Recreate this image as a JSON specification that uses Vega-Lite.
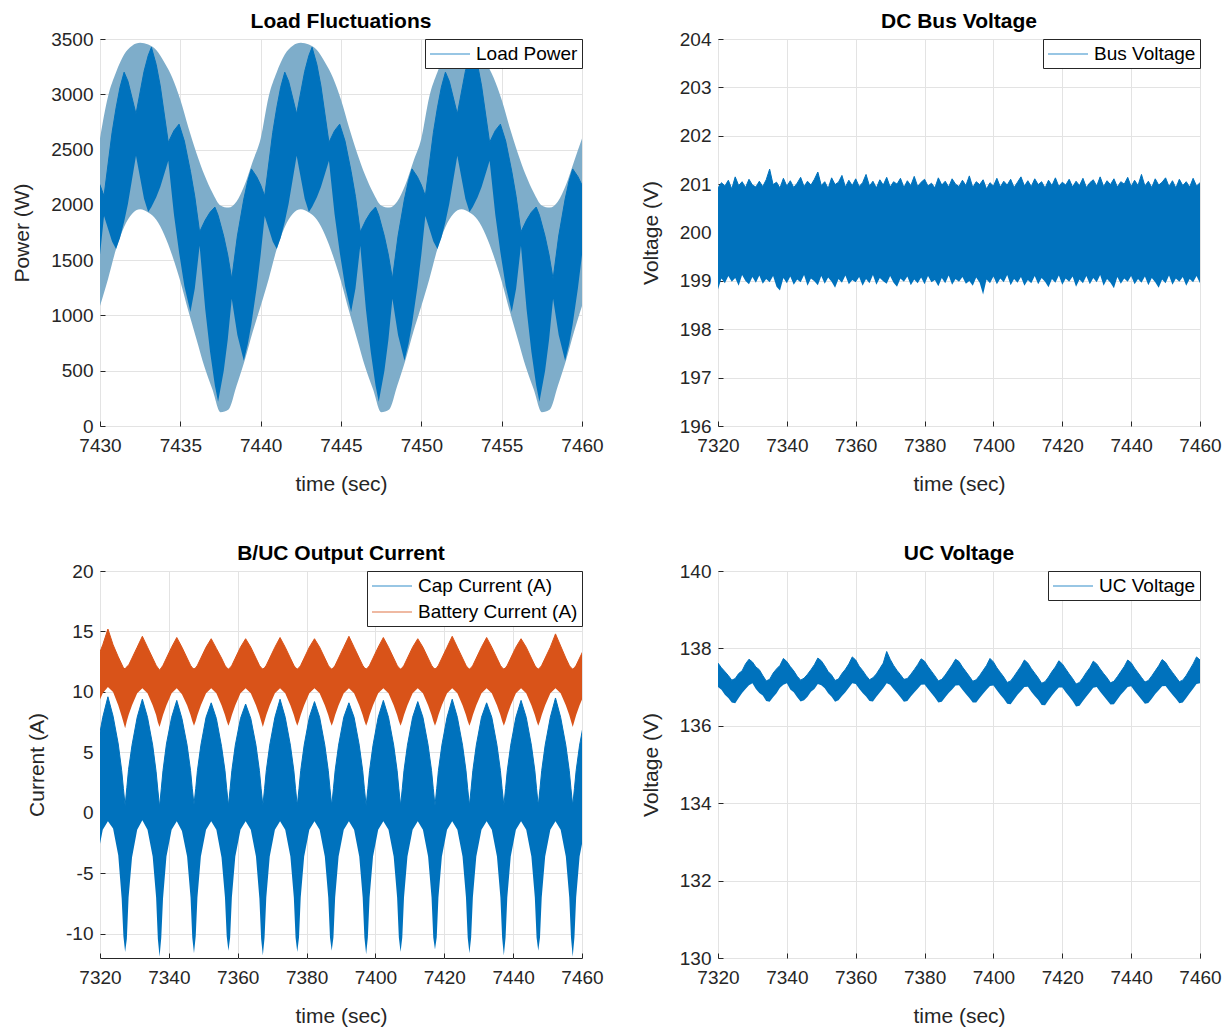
{
"$schema": "https://vega.github.io/schema/vega-lite/v6.json",
"background": "white",
"padding": {"left": 11, "top": 10, "right": 5, "bottom": 5},
"columns": 2,
"spacing": {"row": 145, "column": 136},
"bounds": "flush",
"datasets": {
"p1band": [
{"t":7430,"u":2600,"l":1085},{"t":7430.5,"u":2980,"l":1330},{"t":7431,"u":3200,"l":1600},{"t":7431.5,"u":3360,"l":1800},{"t":7432,"u":3440,"l":1920},{"t":7432.5,"u":3465,"l":1960},{"t":7433,"u":3450,"l":1930},{"t":7433.5,"u":3400,"l":1865},{"t":7434,"u":3290,"l":1730},{"t":7434.5,"u":3150,"l":1540},{"t":7435,"u":2950,"l":1310},{"t":7435.5,"u":2700,"l":1040},{"t":7436,"u":2470,"l":787},{"t":7436.5,"u":2270,"l":536},{"t":7437,"u":2110,"l":330},{"t":7437.5,"u":1995,"l":125},{"t":7438,"u":1975,"l":150},{"t":7438.5,"u":2030,"l":364},{"t":7439,"u":2180,"l":590},{"t":7439.5,"u":2390,"l":850},
{"t":7440,"u":2600,"l":1085},{"t":7440.5,"u":2980,"l":1330},{"t":7441,"u":3200,"l":1600},{"t":7441.5,"u":3360,"l":1800},{"t":7442,"u":3440,"l":1920},{"t":7442.5,"u":3465,"l":1960},{"t":7443,"u":3450,"l":1930},{"t":7443.5,"u":3400,"l":1865},{"t":7444,"u":3290,"l":1730},{"t":7444.5,"u":3150,"l":1540},{"t":7445,"u":2950,"l":1310},{"t":7445.5,"u":2700,"l":1040},{"t":7446,"u":2470,"l":787},{"t":7446.5,"u":2270,"l":536},{"t":7447,"u":2110,"l":330},{"t":7447.5,"u":1995,"l":125},{"t":7448,"u":1975,"l":150},{"t":7448.5,"u":2030,"l":364},{"t":7449,"u":2180,"l":590},{"t":7449.5,"u":2390,"l":850},
{"t":7450,"u":2600,"l":1085},{"t":7450.5,"u":2980,"l":1330},{"t":7451,"u":3200,"l":1600},{"t":7451.5,"u":3360,"l":1800},{"t":7452,"u":3440,"l":1920},{"t":7452.5,"u":3465,"l":1960},{"t":7453,"u":3450,"l":1930},{"t":7453.5,"u":3400,"l":1865},{"t":7454,"u":3290,"l":1730},{"t":7454.5,"u":3150,"l":1540},{"t":7455,"u":2950,"l":1310},{"t":7455.5,"u":2700,"l":1040},{"t":7456,"u":2470,"l":787},{"t":7456.5,"u":2270,"l":536},{"t":7457,"u":2110,"l":330},{"t":7457.5,"u":1995,"l":125},{"t":7458,"u":1975,"l":150},{"t":7458.5,"u":2030,"l":364},{"t":7459,"u":2180,"l":590},{"t":7459.5,"u":2390,"l":850},
{"t":7460,"u":2600,"l":1085}
],
"p1dark": [
{"t":7429.75,"l":1250,"h":2255},{"t":7430.0,"l":1548,"h":2179},
{"t":7430.25,"l":1900,"h":2080},{"t":7430.75,"l":1668,"h":2653},{"t":7431.0,"l":1600,"h":2877},{"t":7431.245,"l":1701,"h":3063},{"t":7431.5,"l":1846,"h":3200},{"t":7431.74,"l":2010,"h":3118},{"t":7432.24,"l":2445,"h":2822},{"t":7432.74,"l":2055,"h":3207},{"t":7433.0,"l":1935,"h":3350},{"t":7433.2,"l":1980,"h":3425},{"t":7433.5,"l":2069,"h":3268},{"t":7433.75,"l":2162,"h":3076},{"t":7434.25,"l":2400,"h":2565},{"t":7434.6,"l":1915,"h":2671},{"t":7434.92,"l":1571,"h":2730},{"t":7435.25,"l":1267,"h":2577},{"t":7435.63,"l":1030,"h":2302},{"t":7435.9,"l":1244,"h":2075},{"t":7436.2,"l":1630,"h":1755},{"t":7436.55,"l":1055,"h":1862},{"t":7436.85,"l":671,"h":1933},{"t":7437.15,"l":367,"h":1980},{"t":7437.35,"l":220,"h":1906},{"t":7437.7,"l":498,"h":1716},{"t":7437.95,"l":780,"h":1546},{"t":7438.2,"l":1150,"h":1330},{"t":7438.55,"l":823,"h":1718},{"t":7438.95,"l":590,"h":2052},{"t":7439.2,"l":741,"h":2218},{"t":7439.42,"l":921,"h":2325},{"t":7439.75,"l":1250,"h":2255},{"t":7440.0,"l":1548,"h":2179},
{"t":7440.25,"l":1900,"h":2080},{"t":7440.75,"l":1668,"h":2653},{"t":7441.0,"l":1600,"h":2877},{"t":7441.245,"l":1701,"h":3063},{"t":7441.5,"l":1846,"h":3200},{"t":7441.74,"l":2010,"h":3118},{"t":7442.24,"l":2445,"h":2822},{"t":7442.74,"l":2055,"h":3207},{"t":7443.0,"l":1935,"h":3350},{"t":7443.2,"l":1980,"h":3425},{"t":7443.5,"l":2069,"h":3268},{"t":7443.75,"l":2162,"h":3076},{"t":7444.25,"l":2400,"h":2565},{"t":7444.6,"l":1915,"h":2671},{"t":7444.92,"l":1571,"h":2730},{"t":7445.25,"l":1267,"h":2577},{"t":7445.63,"l":1030,"h":2302},{"t":7445.9,"l":1244,"h":2075},{"t":7446.2,"l":1630,"h":1755},{"t":7446.55,"l":1055,"h":1862},{"t":7446.85,"l":671,"h":1933},{"t":7447.15,"l":367,"h":1980},{"t":7447.35,"l":220,"h":1906},{"t":7447.7,"l":498,"h":1716},{"t":7447.95,"l":780,"h":1546},{"t":7448.2,"l":1150,"h":1330},{"t":7448.55,"l":823,"h":1718},{"t":7448.95,"l":590,"h":2052},{"t":7449.2,"l":741,"h":2218},{"t":7449.42,"l":921,"h":2325},{"t":7449.75,"l":1250,"h":2255},{"t":7450.0,"l":1548,"h":2179},
{"t":7450.25,"l":1900,"h":2080},{"t":7450.75,"l":1668,"h":2653},{"t":7451.0,"l":1600,"h":2877},{"t":7451.245,"l":1701,"h":3063},{"t":7451.5,"l":1846,"h":3200},{"t":7451.74,"l":2010,"h":3118},{"t":7452.24,"l":2445,"h":2822},{"t":7452.74,"l":2055,"h":3207},{"t":7453.0,"l":1935,"h":3350},{"t":7453.2,"l":1980,"h":3425},{"t":7453.5,"l":2069,"h":3268},{"t":7453.75,"l":2162,"h":3076},{"t":7454.25,"l":2400,"h":2565},{"t":7454.6,"l":1915,"h":2671},{"t":7454.92,"l":1571,"h":2730},{"t":7455.25,"l":1267,"h":2577},{"t":7455.63,"l":1030,"h":2302},{"t":7455.9,"l":1244,"h":2075},{"t":7456.2,"l":1630,"h":1755},{"t":7456.55,"l":1055,"h":1862},{"t":7456.85,"l":671,"h":1933},{"t":7457.15,"l":367,"h":1980},{"t":7457.35,"l":220,"h":1906},{"t":7457.7,"l":498,"h":1716},{"t":7457.95,"l":780,"h":1546},{"t":7458.2,"l":1150,"h":1330},{"t":7458.55,"l":823,"h":1718},{"t":7458.95,"l":590,"h":2052},{"t":7459.2,"l":741,"h":2218},{"t":7459.42,"l":921,"h":2325},{"t":7459.75,"l":1250,"h":2255},{"t":7460.0,"l":1548,"h":2179},
{"t":7460.25,"l":1900,"h":2080}
],
"p2": [
{"t":7320,"h":200.92,"l":198.82},{"t":7321,"h":201.03,"l":199.05},{"t":7322,"h":200.96,"l":198.95},{"t":7323,"h":201.08,"l":199.1},{"t":7324,"h":200.9,"l":198.98},{"t":7325,"h":201.15,"l":199.06},{"t":7326,"h":200.97,"l":198.9},{"t":7327,"h":201.05,"l":199.12},{"t":7328,"h":200.93,"l":199.0},{"t":7329,"h":201.1,"l":198.93},
{"t":7330,"h":200.98,"l":199.08},{"t":7331,"h":200.94,"l":198.96},{"t":7332,"h":201.06,"l":199.11},{"t":7333,"h":200.95,"l":198.94},{"t":7334,"h":201.09,"l":199.04},{"t":7335,"h":201.31,"l":198.97},{"t":7336,"h":200.99,"l":199.1},{"t":7337,"h":201.04,"l":198.88},{"t":7338,"h":200.92,"l":198.8},{"t":7339,"h":201.12,"l":199.06},
{"t":7340,"h":200.96,"l":198.95},{"t":7341,"h":201.07,"l":199.09},{"t":7342,"h":200.93,"l":198.92},{"t":7343,"h":201.02,"l":199.03},{"t":7344,"h":201.14,"l":198.97},{"t":7345,"h":200.95,"l":199.12},{"t":7346,"h":201.06,"l":198.9},{"t":7347,"h":200.98,"l":199.05},{"t":7348,"h":201.1,"l":198.99},{"t":7349,"h":201.25,"l":198.91},
{"t":7350,"h":200.97,"l":199.1},{"t":7351,"h":201.05,"l":198.94},{"t":7352,"h":200.91,"l":199.07},{"t":7353,"h":201.13,"l":198.98},{"t":7354,"h":200.99,"l":198.86},{"t":7355,"h":201.04,"l":199.04},{"t":7356,"h":201.18,"l":198.96},{"t":7357,"h":200.94,"l":199.11},{"t":7358,"h":201.08,"l":198.93},{"t":7359,"h":200.97,"l":199.02},
{"t":7360,"h":201.11,"l":198.97},{"t":7361,"h":200.95,"l":199.08},{"t":7362,"h":201.03,"l":198.9},{"t":7363,"h":201.2,"l":199.04},{"t":7364,"h":200.96,"l":198.95},{"t":7365,"h":201.06,"l":199.12},{"t":7366,"h":200.92,"l":198.92},{"t":7367,"h":201.09,"l":199.06},{"t":7368,"h":200.98,"l":198.99},{"t":7369,"h":201.14,"l":198.94},
{"t":7370,"h":200.94,"l":199.1},{"t":7371,"h":201.05,"l":198.96},{"t":7372,"h":201.0,"l":198.88},{"t":7373,"h":201.12,"l":199.05},{"t":7374,"h":200.93,"l":198.98},{"t":7375,"h":201.07,"l":199.09},{"t":7376,"h":200.97,"l":198.91},{"t":7377,"h":201.16,"l":199.03},{"t":7378,"h":200.95,"l":198.95},{"t":7379,"h":201.04,"l":199.07},
{"t":7380,"h":201.1,"l":198.93},{"t":7381,"h":200.96,"l":199.1},{"t":7382,"h":201.02,"l":198.97},{"t":7383,"h":200.92,"l":199.02},{"t":7384,"h":201.13,"l":198.89},{"t":7385,"h":200.98,"l":199.06},{"t":7386,"h":201.06,"l":198.95},{"t":7387,"h":200.94,"l":199.11},{"t":7388,"h":201.11,"l":198.92},{"t":7389,"h":201.0,"l":199.04},
{"t":7390,"h":200.95,"l":198.98},{"t":7391,"h":201.08,"l":199.08},{"t":7392,"h":200.97,"l":198.94},{"t":7393,"h":201.17,"l":199.0},{"t":7394,"h":200.93,"l":198.9},{"t":7395,"h":201.05,"l":199.07},{"t":7396,"h":200.99,"l":198.96},{"t":7397,"h":201.09,"l":198.72},{"t":7398,"h":200.9,"l":199.03},{"t":7399,"h":201.03,"l":198.95},
{"t":7400,"h":200.96,"l":199.09},{"t":7401,"h":201.12,"l":198.93},{"t":7402,"h":200.94,"l":199.05},{"t":7403,"h":201.06,"l":198.97},{"t":7404,"h":200.98,"l":199.12},{"t":7405,"h":201.1,"l":198.91},{"t":7406,"h":200.93,"l":199.04},{"t":7407,"h":201.04,"l":198.96},{"t":7408,"h":201.15,"l":199.08},{"t":7409,"h":200.96,"l":198.9},
{"t":7410,"h":201.07,"l":199.02},{"t":7411,"h":200.95,"l":198.95},{"t":7412,"h":201.11,"l":199.1},{"t":7413,"h":200.99,"l":198.93},{"t":7414,"h":201.05,"l":199.06},{"t":7415,"h":200.92,"l":198.98},{"t":7416,"h":201.08,"l":198.87},{"t":7417,"h":200.97,"l":199.04},{"t":7418,"h":201.13,"l":198.96},{"t":7419,"h":200.95,"l":199.11},
{"t":7420,"h":201.04,"l":198.92},{"t":7421,"h":200.98,"l":199.05},{"t":7422,"h":201.1,"l":198.98},{"t":7423,"h":200.94,"l":199.09},{"t":7424,"h":201.06,"l":198.88},{"t":7425,"h":200.97,"l":199.03},{"t":7426,"h":201.12,"l":198.95},{"t":7427,"h":200.93,"l":199.1},{"t":7428,"h":201.03,"l":198.93},{"t":7429,"h":201.09,"l":199.06},
{"t":7430,"h":200.96,"l":198.97},{"t":7431,"h":201.15,"l":199.12},{"t":7432,"h":200.95,"l":198.9},{"t":7433,"h":201.07,"l":199.04},{"t":7434,"h":200.99,"l":198.96},{"t":7435,"h":201.11,"l":198.85},{"t":7436,"h":200.94,"l":199.08},{"t":7437,"h":201.05,"l":198.94},{"t":7438,"h":201.0,"l":199.05},{"t":7439,"h":201.14,"l":198.98},
{"t":7440,"h":200.95,"l":199.1},{"t":7441,"h":201.08,"l":198.93},{"t":7442,"h":200.97,"l":199.04},{"t":7443,"h":201.2,"l":198.96},{"t":7444,"h":200.96,"l":199.09},{"t":7445,"h":201.06,"l":198.91},{"t":7446,"h":200.93,"l":199.06},{"t":7447,"h":201.11,"l":198.97},{"t":7448,"h":200.98,"l":198.86},{"t":7449,"h":201.04,"l":199.03},
{"t":7450,"h":201.13,"l":198.95},{"t":7451,"h":200.95,"l":199.11},{"t":7452,"h":201.07,"l":198.92},{"t":7453,"h":200.92,"l":199.05},{"t":7454,"h":201.1,"l":198.98},{"t":7455,"h":200.97,"l":199.08},{"t":7456,"h":201.05,"l":198.9},{"t":7457,"h":200.94,"l":199.04},{"t":7458,"h":201.12,"l":198.97},{"t":7459,"h":200.96,"l":199.1},
{"t":7460,"h":201.03,"l":198.95}
],
"p3": [
{"t":7319.3,"ch":5.6,"cl":-3.6,"bh":12.8,"bl":8.9},{"t":7320.8,"ch":7.9,"cl":-1.4,"bh":13.9,"bl":9.9},
{"t":7322.3,"ch":9.6,"cl":-0.7,"bh":15.2,"bl":10.4},{"t":7323.8,"ch":8.0,"cl":-1.3,"bh":13.9,"bl":10.0},{"t":7325.3,"ch":5.7,"cl":-3.5,"bh":12.9,"bl":8.9},{"t":7326.3,"ch":3.5,"cl":-7.1,"bh":12.3,"bl":8.0},{"t":7326.8,"ch":2.0,"cl":-10.2,"bh":12.0,"bl":7.5},{"t":7327.3,"ch":0.6,"cl":-11.5,"bh":11.9,"bl":7.0},{"t":7327.8,"ch":2.1,"cl":-10.4,"bh":12.1,"bl":7.6},{"t":7328.3,"ch":3.6,"cl":-7.0,"bh":12.2,"bl":8.1},{"t":7329.3,"ch":5.6,"cl":-3.7,"bh":12.8,"bl":8.9},{"t":7330.8,"ch":7.9,"cl":-1.4,"bh":13.7,"bl":9.9},
{"t":7332.3,"ch":9.4,"cl":-0.6,"bh":14.6,"bl":10.3},{"t":7333.8,"ch":7.9,"cl":-1.4,"bh":13.7,"bl":9.9},{"t":7335.3,"ch":5.6,"cl":-3.6,"bh":12.8,"bl":8.9},{"t":7336.3,"ch":3.4,"cl":-7.0,"bh":12.2,"bl":8.1},{"t":7336.8,"ch":1.9,"cl":-10.4,"bh":12.0,"bl":7.5},{"t":7337.3,"ch":0.5,"cl":-11.9,"bh":11.8,"bl":7.1},{"t":7337.8,"ch":2.0,"cl":-10.3,"bh":12.0,"bl":7.6},{"t":7338.3,"ch":3.5,"cl":-7.1,"bh":12.2,"bl":8.1},{"t":7339.3,"ch":5.7,"cl":-3.6,"bh":12.8,"bl":8.9},{"t":7340.8,"ch":7.9,"cl":-1.4,"bh":13.7,"bl":9.9},
{"t":7342.3,"ch":9.3,"cl":-0.7,"bh":14.5,"bl":10.3},{"t":7343.8,"ch":7.8,"cl":-1.5,"bh":13.7,"bl":9.8},{"t":7345.3,"ch":5.6,"cl":-3.6,"bh":12.8,"bl":8.9},{"t":7346.3,"ch":3.5,"cl":-7.0,"bh":12.2,"bl":8.1},{"t":7346.8,"ch":2.0,"cl":-10.3,"bh":12.0,"bl":7.6},{"t":7347.3,"ch":0.7,"cl":-11.6,"bh":11.9,"bl":7.2},{"t":7347.8,"ch":2.0,"cl":-10.2,"bh":12.0,"bl":7.6},{"t":7348.3,"ch":3.5,"cl":-7.0,"bh":12.2,"bl":8.1},{"t":7349.3,"ch":5.6,"cl":-3.6,"bh":12.8,"bl":8.9},{"t":7350.8,"ch":7.9,"cl":-1.4,"bh":13.7,"bl":9.9},
{"t":7352.3,"ch":9.1,"cl":-0.7,"bh":14.4,"bl":10.3},{"t":7353.8,"ch":7.8,"cl":-1.4,"bh":13.6,"bl":9.9},{"t":7355.3,"ch":5.5,"cl":-3.7,"bh":12.8,"bl":8.9},{"t":7356.3,"ch":3.5,"cl":-7.0,"bh":12.2,"bl":8.1},{"t":7356.8,"ch":2.0,"cl":-10.2,"bh":12.0,"bl":7.6},{"t":7357.3,"ch":0.6,"cl":-11.4,"bh":11.9,"bl":7.2},{"t":7357.8,"ch":2.0,"cl":-10.3,"bh":12.0,"bl":7.6},{"t":7358.3,"ch":3.5,"cl":-7.0,"bh":12.2,"bl":8.1},{"t":7359.3,"ch":5.6,"cl":-3.6,"bh":12.8,"bl":8.9},{"t":7360.8,"ch":7.8,"cl":-1.4,"bh":13.7,"bl":9.9},
{"t":7362.3,"ch":9.0,"cl":-0.7,"bh":14.4,"bl":10.3},{"t":7363.8,"ch":7.8,"cl":-1.4,"bh":13.7,"bl":9.9},{"t":7365.3,"ch":5.6,"cl":-3.6,"bh":12.8,"bl":8.9},{"t":7366.3,"ch":3.5,"cl":-7.1,"bh":12.2,"bl":8.1},{"t":7366.8,"ch":2.0,"cl":-10.4,"bh":12.0,"bl":7.6},{"t":7367.3,"ch":0.6,"cl":-11.8,"bh":11.9,"bl":7.1},{"t":7367.8,"ch":2.0,"cl":-10.3,"bh":12.0,"bl":7.6},{"t":7368.3,"ch":3.5,"cl":-7.0,"bh":12.2,"bl":8.1},{"t":7369.3,"ch":5.6,"cl":-3.6,"bh":12.8,"bl":8.9},{"t":7370.8,"ch":7.9,"cl":-1.4,"bh":13.7,"bl":9.9},
{"t":7372.3,"ch":9.4,"cl":-0.7,"bh":14.5,"bl":10.3},{"t":7373.8,"ch":7.9,"cl":-1.4,"bh":13.7,"bl":9.9},{"t":7375.3,"ch":5.6,"cl":-3.6,"bh":12.8,"bl":8.9},{"t":7376.3,"ch":3.5,"cl":-7.0,"bh":12.2,"bl":8.1},{"t":7376.8,"ch":2.0,"cl":-10.3,"bh":12.0,"bl":7.6},{"t":7377.3,"ch":0.6,"cl":-11.5,"bh":11.9,"bl":7.2},{"t":7377.8,"ch":2.0,"cl":-10.3,"bh":12.0,"bl":7.6},{"t":7378.3,"ch":3.5,"cl":-7.0,"bh":12.2,"bl":8.1},{"t":7379.3,"ch":5.6,"cl":-3.6,"bh":12.8,"bl":8.9},{"t":7380.8,"ch":7.9,"cl":-1.4,"bh":13.7,"bl":9.9},
{"t":7382.3,"ch":9.2,"cl":-0.7,"bh":14.4,"bl":10.3},{"t":7383.8,"ch":7.9,"cl":-1.4,"bh":13.7,"bl":9.9},{"t":7385.3,"ch":5.6,"cl":-3.6,"bh":12.8,"bl":8.9},{"t":7386.3,"ch":3.5,"cl":-7.0,"bh":12.2,"bl":8.1},{"t":7386.8,"ch":2.0,"cl":-10.3,"bh":12.0,"bl":7.6},{"t":7387.3,"ch":0.6,"cl":-11.4,"bh":11.9,"bl":7.2},{"t":7387.8,"ch":2.0,"cl":-10.3,"bh":12.0,"bl":7.6},{"t":7388.3,"ch":3.5,"cl":-7.0,"bh":12.2,"bl":8.1},{"t":7389.3,"ch":5.6,"cl":-3.6,"bh":12.8,"bl":8.9},{"t":7390.8,"ch":7.9,"cl":-1.4,"bh":13.7,"bl":9.9},
{"t":7392.3,"ch":9.1,"cl":-0.7,"bh":14.6,"bl":10.3},{"t":7393.8,"ch":7.9,"cl":-1.4,"bh":13.7,"bl":9.9},{"t":7395.3,"ch":5.6,"cl":-3.6,"bh":12.8,"bl":8.9},{"t":7396.3,"ch":3.5,"cl":-7.0,"bh":12.2,"bl":8.1},{"t":7396.8,"ch":2.0,"cl":-10.3,"bh":12.0,"bl":7.6},{"t":7397.3,"ch":0.6,"cl":-11.7,"bh":11.9,"bl":7.2},{"t":7397.8,"ch":2.0,"cl":-10.3,"bh":12.0,"bl":7.6},{"t":7398.3,"ch":3.5,"cl":-7.0,"bh":12.2,"bl":8.1},{"t":7399.3,"ch":5.6,"cl":-3.6,"bh":12.8,"bl":8.9},{"t":7400.8,"ch":7.9,"cl":-1.4,"bh":13.7,"bl":9.9},
{"t":7402.3,"ch":9.3,"cl":-0.7,"bh":14.5,"bl":10.3},{"t":7403.8,"ch":7.9,"cl":-1.4,"bh":13.7,"bl":9.9},{"t":7405.3,"ch":5.6,"cl":-3.6,"bh":12.8,"bl":8.9},{"t":7406.3,"ch":3.5,"cl":-7.0,"bh":12.2,"bl":8.1},{"t":7406.8,"ch":2.0,"cl":-10.3,"bh":12.0,"bl":7.6},{"t":7407.3,"ch":0.6,"cl":-11.5,"bh":11.9,"bl":7.2},{"t":7407.8,"ch":2.0,"cl":-10.3,"bh":12.0,"bl":7.6},{"t":7408.3,"ch":3.5,"cl":-7.0,"bh":12.2,"bl":8.1},{"t":7409.3,"ch":5.6,"cl":-3.6,"bh":12.8,"bl":8.9},{"t":7410.8,"ch":7.9,"cl":-1.4,"bh":13.7,"bl":9.9},
{"t":7412.3,"ch":9.2,"cl":-0.7,"bh":14.4,"bl":10.3},{"t":7413.8,"ch":7.9,"cl":-1.4,"bh":13.7,"bl":9.9},{"t":7415.3,"ch":5.6,"cl":-3.6,"bh":12.8,"bl":8.9},{"t":7416.3,"ch":3.5,"cl":-7.0,"bh":12.2,"bl":8.1},{"t":7416.8,"ch":2.0,"cl":-10.3,"bh":12.0,"bl":7.6},{"t":7417.3,"ch":0.6,"cl":-11.3,"bh":11.9,"bl":7.2},{"t":7417.8,"ch":2.0,"cl":-10.3,"bh":12.0,"bl":7.6},{"t":7418.3,"ch":3.5,"cl":-7.0,"bh":12.2,"bl":8.1},{"t":7419.3,"ch":5.6,"cl":-3.6,"bh":12.8,"bl":8.9},{"t":7420.8,"ch":7.9,"cl":-1.4,"bh":13.7,"bl":9.9},
{"t":7422.3,"ch":9.4,"cl":-0.7,"bh":14.6,"bl":10.3},{"t":7423.8,"ch":7.9,"cl":-1.4,"bh":13.7,"bl":9.9},{"t":7425.3,"ch":5.6,"cl":-3.6,"bh":12.8,"bl":8.9},{"t":7426.3,"ch":3.5,"cl":-7.0,"bh":12.2,"bl":8.1},{"t":7426.8,"ch":2.0,"cl":-10.3,"bh":12.0,"bl":7.6},{"t":7427.3,"ch":0.6,"cl":-11.6,"bh":11.9,"bl":7.2},{"t":7427.8,"ch":2.0,"cl":-10.3,"bh":12.0,"bl":7.6},{"t":7428.3,"ch":3.5,"cl":-7.0,"bh":12.2,"bl":8.1},{"t":7429.3,"ch":5.6,"cl":-3.6,"bh":12.8,"bl":8.9},{"t":7430.8,"ch":7.9,"cl":-1.4,"bh":13.7,"bl":9.9},
{"t":7432.3,"ch":9.1,"cl":-0.7,"bh":14.5,"bl":10.3},{"t":7433.8,"ch":7.9,"cl":-1.4,"bh":13.7,"bl":9.9},{"t":7435.3,"ch":5.6,"cl":-3.6,"bh":12.8,"bl":8.9},{"t":7436.3,"ch":3.5,"cl":-7.0,"bh":12.2,"bl":8.1},{"t":7436.8,"ch":2.0,"cl":-10.3,"bh":12.0,"bl":7.6},{"t":7437.3,"ch":0.6,"cl":-11.8,"bh":11.9,"bl":7.2},{"t":7437.8,"ch":2.0,"cl":-10.3,"bh":12.0,"bl":7.6},{"t":7438.3,"ch":3.5,"cl":-7.0,"bh":12.2,"bl":8.1},{"t":7439.3,"ch":5.6,"cl":-3.6,"bh":12.8,"bl":8.9},{"t":7440.8,"ch":7.9,"cl":-1.4,"bh":13.7,"bl":9.9},
{"t":7442.3,"ch":9.3,"cl":-0.7,"bh":14.4,"bl":10.3},{"t":7443.8,"ch":7.9,"cl":-1.4,"bh":13.7,"bl":9.9},{"t":7445.3,"ch":5.6,"cl":-3.6,"bh":12.8,"bl":8.9},{"t":7446.3,"ch":3.5,"cl":-7.0,"bh":12.2,"bl":8.1},{"t":7446.8,"ch":2.0,"cl":-10.3,"bh":12.0,"bl":7.6},{"t":7447.3,"ch":0.6,"cl":-11.4,"bh":11.9,"bl":7.2},{"t":7447.8,"ch":2.0,"cl":-10.3,"bh":12.0,"bl":7.6},{"t":7448.3,"ch":3.5,"cl":-7.0,"bh":12.2,"bl":8.1},{"t":7449.3,"ch":5.6,"cl":-3.6,"bh":12.8,"bl":8.9},{"t":7450.8,"ch":7.9,"cl":-1.4,"bh":13.7,"bl":9.9},
{"t":7452.3,"ch":9.5,"cl":-0.7,"bh":14.8,"bl":10.3},{"t":7453.8,"ch":7.9,"cl":-1.4,"bh":13.8,"bl":9.9},{"t":7455.3,"ch":5.6,"cl":-3.6,"bh":12.8,"bl":8.9},{"t":7456.3,"ch":3.5,"cl":-7.0,"bh":12.2,"bl":8.1},{"t":7456.8,"ch":2.0,"cl":-10.3,"bh":12.0,"bl":7.6},{"t":7457.3,"ch":0.6,"cl":-11.9,"bh":11.9,"bl":7.1},{"t":7457.8,"ch":2.0,"cl":-10.3,"bh":12.0,"bl":7.6},{"t":7458.3,"ch":3.5,"cl":-7.0,"bh":12.2,"bl":8.1},{"t":7459.3,"ch":5.6,"cl":-3.6,"bh":12.8,"bl":8.9},{"t":7460.8,"ch":7.9,"cl":-1.4,"bh":13.7,"bl":9.9}
],
"p4": [
{"t":7320,"h":137.62,"l":137.0},{"t":7321,"h":137.5,"l":136.93},{"t":7322,"h":137.4,"l":136.8},{"t":7323,"h":137.3,"l":136.72},{"t":7324,"h":137.18,"l":136.6},{"t":7325,"h":137.22,"l":136.58},{"t":7326,"h":137.35,"l":136.72},{"t":7327,"h":137.42,"l":136.85},{"t":7328,"h":137.6,"l":136.95},{"t":7329,"h":137.72,"l":137.05},
{"t":7330,"h":137.65,"l":137.1},{"t":7331,"h":137.52,"l":136.95},{"t":7332,"h":137.45,"l":136.85},{"t":7333,"h":137.3,"l":136.78},{"t":7334,"h":137.16,"l":136.64},{"t":7335,"h":137.2,"l":136.62},{"t":7336,"h":137.36,"l":136.74},{"t":7337,"h":137.47,"l":136.84},{"t":7338,"h":137.56,"l":136.98},{"t":7339,"h":137.74,"l":137.06},
{"t":7340,"h":137.66,"l":137.1},{"t":7341,"h":137.53,"l":136.94},{"t":7342,"h":137.42,"l":136.87},{"t":7343,"h":137.28,"l":136.74},{"t":7344,"h":137.18,"l":136.63},{"t":7345,"h":137.23,"l":136.66},{"t":7346,"h":137.33,"l":136.75},{"t":7347,"h":137.45,"l":136.88},{"t":7348,"h":137.58,"l":136.95},{"t":7349,"h":137.75,"l":137.08},
{"t":7350,"h":137.68,"l":137.05},{"t":7351,"h":137.55,"l":136.97},{"t":7352,"h":137.4,"l":136.84},{"t":7353,"h":137.31,"l":136.75},{"t":7354,"h":137.17,"l":136.62},{"t":7355,"h":137.21,"l":136.66},{"t":7356,"h":137.35,"l":136.77},{"t":7357,"h":137.46,"l":136.87},{"t":7358,"h":137.6,"l":136.98},{"t":7359,"h":137.78,"l":137.1},
{"t":7360,"h":137.7,"l":137.08},{"t":7361,"h":137.54,"l":136.96},{"t":7362,"h":137.43,"l":136.85},{"t":7363,"h":137.3,"l":136.76},{"t":7364,"h":137.19,"l":136.64},{"t":7365,"h":137.24,"l":136.63},{"t":7366,"h":137.34,"l":136.75},{"t":7367,"h":137.48,"l":136.86},{"t":7368,"h":137.62,"l":136.97},{"t":7369,"h":137.92,"l":137.1},
{"t":7370,"h":137.72,"l":137.06},{"t":7371,"h":137.56,"l":136.95},{"t":7372,"h":137.43,"l":136.85},{"t":7373,"h":137.32,"l":136.74},{"t":7374,"h":137.2,"l":136.62},{"t":7375,"h":137.22,"l":136.64},{"t":7376,"h":137.33,"l":136.76},{"t":7377,"h":137.45,"l":136.86},{"t":7378,"h":137.58,"l":136.96},{"t":7379,"h":137.73,"l":137.06},
{"t":7380,"h":137.67,"l":137.07},{"t":7381,"h":137.53,"l":136.95},{"t":7382,"h":137.41,"l":136.84},{"t":7383,"h":137.29,"l":136.73},{"t":7384,"h":137.16,"l":136.6},{"t":7385,"h":137.2,"l":136.62},{"t":7386,"h":137.31,"l":136.74},{"t":7387,"h":137.44,"l":136.85},{"t":7388,"h":137.57,"l":136.94},{"t":7389,"h":137.72,"l":137.04},
{"t":7390,"h":137.66,"l":137.05},{"t":7391,"h":137.52,"l":136.93},{"t":7392,"h":137.4,"l":136.82},{"t":7393,"h":137.28,"l":136.72},{"t":7394,"h":137.15,"l":136.6},{"t":7395,"h":137.19,"l":136.6},{"t":7396,"h":137.3,"l":136.72},{"t":7397,"h":137.43,"l":136.83},{"t":7398,"h":137.56,"l":136.93},{"t":7399,"h":137.74,"l":137.03},
{"t":7400,"h":137.65,"l":137.04},{"t":7401,"h":137.5,"l":136.92},{"t":7402,"h":137.38,"l":136.8},{"t":7403,"h":137.26,"l":136.7},{"t":7404,"h":137.12,"l":136.57},{"t":7405,"h":137.16,"l":136.56},{"t":7406,"h":137.28,"l":136.68},{"t":7407,"h":137.41,"l":136.8},{"t":7408,"h":137.54,"l":136.9},{"t":7409,"h":137.7,"l":137.0},
{"t":7410,"h":137.62,"l":137.01},{"t":7411,"h":137.48,"l":136.88},{"t":7412,"h":137.36,"l":136.77},{"t":7413,"h":137.24,"l":136.67},{"t":7414,"h":137.1,"l":136.54},{"t":7415,"h":137.14,"l":136.53},{"t":7416,"h":137.26,"l":136.66},{"t":7417,"h":137.4,"l":136.78},{"t":7418,"h":137.52,"l":136.89},{"t":7419,"h":137.68,"l":136.99},
{"t":7420,"h":137.6,"l":136.99},{"t":7421,"h":137.47,"l":136.87},{"t":7422,"h":137.34,"l":136.76},{"t":7423,"h":137.22,"l":136.64},{"t":7424,"h":137.08,"l":136.5},{"t":7425,"h":137.12,"l":136.52},{"t":7426,"h":137.24,"l":136.64},{"t":7427,"h":137.38,"l":136.76},{"t":7428,"h":137.5,"l":136.87},{"t":7429,"h":137.67,"l":136.98},
{"t":7430,"h":137.6,"l":137.0},{"t":7431,"h":137.47,"l":136.88},{"t":7432,"h":137.35,"l":136.77},{"t":7433,"h":137.24,"l":136.66},{"t":7434,"h":137.11,"l":136.55},{"t":7435,"h":137.15,"l":136.56},{"t":7436,"h":137.27,"l":136.68},{"t":7437,"h":137.4,"l":136.8},{"t":7438,"h":137.53,"l":136.9},{"t":7439,"h":137.7,"l":137.0},
{"t":7440,"h":137.63,"l":137.02},{"t":7441,"h":137.49,"l":136.9},{"t":7442,"h":137.37,"l":136.79},{"t":7443,"h":137.25,"l":136.68},{"t":7444,"h":137.13,"l":136.57},{"t":7445,"h":137.17,"l":136.59},{"t":7446,"h":137.29,"l":136.7},{"t":7447,"h":137.42,"l":136.82},{"t":7448,"h":137.55,"l":136.92},{"t":7449,"h":137.71,"l":137.02},
{"t":7450,"h":137.64,"l":137.03},{"t":7451,"h":137.5,"l":136.91},{"t":7452,"h":137.38,"l":136.8},{"t":7453,"h":137.26,"l":136.7},{"t":7454,"h":137.14,"l":136.58},{"t":7455,"h":137.18,"l":136.6},{"t":7456,"h":137.3,"l":136.72},{"t":7457,"h":137.45,"l":136.84},{"t":7458,"h":137.6,"l":136.96},{"t":7459,"h":137.78,"l":137.08},
{"t":7460,"h":137.7,"l":137.1}
]
},
"concat": [
{
"width": 482, "height": 387,
"title": "Load Fluctuations",
"layer": [
{"data": {"name": "p1band"}, "mark": {"type": "area", "color": "#7eadca", "interpolate": "monotone", "clip": true},
 "encoding": {
  "x": {"field": "t", "type": "quantitative", "title": "time (sec)", "scale": {"domain": [7430, 7460], "nice": false, "zero": false}, "axis": {"values": [7430, 7435, 7440, 7445, 7450, 7455, 7460], "format": "d"}},
  "y": {"field": "l", "type": "quantitative", "title": "Power (W)", "scale": {"domain": [0, 3500], "nice": false}, "axis": {"values": [0, 500, 1000, 1500, 2000, 2500, 3000, 3500], "format": "d"}},
  "y2": {"field": "u"}}},
{"data": {"name": "p1dark"}, "mark": {"type": "area", "color": "#0072bd", "clip": true},
 "encoding": {
  "x": {"field": "t", "type": "quantitative", "title": "time (sec)"},
  "y": {"field": "l", "type": "quantitative", "title": "Power (W)"},
  "y2": {"field": "h"}}},
{"data": {"name": "p1dark"}, "mark": {"type": "line", "strokeWidth": 1, "clip": true},
 "encoding": {
  "x": {"field": "t", "type": "quantitative", "title": "time (sec)"},
  "y": {"field": "h", "type": "quantitative", "title": "Power (W)"},
  "color": {"datum": "Load Power", "scale": {"domain": ["Load Power"], "range": ["#0072bd"]},
   "legend": {"title": null, "orient": "top-right", "offset": 0, "symbolType": "M-1,0H3", "symbolSize": 400, "symbolStrokeWidth": 1.2, "symbolOpacity": 0.8, "labelOffset": 25, "labelFontSize": 19, "labelFont": "Liberation Sans", "labelColor": "#000000", "strokeColor": "#262626", "fillColor": "#ffffff", "padding": 4, "rowPadding": 5, "labelLimit": 400}}}}
]
},
{
"width": 482, "height": 387,
"title": "DC Bus Voltage",
"layer": [
{"data": {"name": "p2"}, "mark": {"type": "area", "color": "#0072bd", "clip": true},
 "encoding": {
  "x": {"field": "t", "type": "quantitative", "title": "time (sec)", "scale": {"domain": [7320, 7460], "nice": false, "zero": false}, "axis": {"values": [7320, 7340, 7360, 7380, 7400, 7420, 7440, 7460], "format": "d"}},
  "y": {"field": "l", "type": "quantitative", "title": "Voltage (V)", "scale": {"domain": [196, 204], "nice": false, "zero": false}, "axis": {"values": [196, 197, 198, 199, 200, 201, 202, 203, 204], "format": "d"}},
  "y2": {"field": "h"}}},
{"data": {"name": "p2"}, "mark": {"type": "line", "strokeWidth": 1, "clip": true},
 "encoding": {
  "x": {"field": "t", "type": "quantitative", "title": "time (sec)"},
  "y": {"field": "h", "type": "quantitative", "title": "Voltage (V)"},
  "color": {"datum": "Bus Voltage", "scale": {"domain": ["Bus Voltage"], "range": ["#0072bd"]},
   "legend": {"title": null, "orient": "top-right", "offset": 0, "symbolType": "M-1,0H3", "symbolSize": 400, "symbolStrokeWidth": 1.2, "symbolOpacity": 0.8, "labelOffset": 25, "labelFontSize": 19, "labelFont": "Liberation Sans", "labelColor": "#000000", "strokeColor": "#262626", "fillColor": "#ffffff", "padding": 4, "rowPadding": 5, "labelLimit": 400}}}}
]
},
{
"width": 482, "height": 387,
"title": "B/UC Output Current",
"layer": [
{"data": {"name": "p3"}, "mark": {"type": "area", "color": "#0072bd", "clip": true},
 "encoding": {
  "x": {"field": "t", "type": "quantitative", "title": "time (sec)", "scale": {"domain": [7320, 7460], "nice": false, "zero": false}, "axis": {"values": [7320, 7340, 7360, 7380, 7400, 7420, 7440, 7460], "format": "d"}},
  "y": {"field": "cl", "type": "quantitative", "title": "Current (A)", "scale": {"domain": [-12, 20], "nice": false, "zero": false}, "axis": {"values": [-10, -5, 0, 5, 10, 15, 20], "labelExpr": "'' + datum.value"}},
  "y2": {"field": "ch"}}},
{"data": {"name": "p3"}, "mark": {"type": "area", "color": "#d95319", "clip": true},
 "encoding": {
  "x": {"field": "t", "type": "quantitative", "title": "time (sec)"},
  "y": {"field": "bl", "type": "quantitative", "title": "Current (A)"},
  "y2": {"field": "bh"}}},
{"data": {"name": "p3"}, "mark": {"type": "line", "strokeWidth": 1, "clip": true},
 "encoding": {
  "x": {"field": "t", "type": "quantitative", "title": "time (sec)"},
  "y": {"field": "ch", "type": "quantitative", "title": "Current (A)"},
  "color": {"datum": "Cap Current (A)", "scale": {"domain": ["Cap Current (A)", "Battery Current (A)"], "range": ["#0072bd", "#d95319"]},
   "legend": {"title": null, "orient": "top-right", "offset": 0, "symbolType": "M-1,0H3", "symbolSize": 400, "symbolStrokeWidth": 1.2, "symbolOpacity": 0.8, "labelOffset": 25, "labelFontSize": 19, "labelFont": "Liberation Sans", "labelColor": "#000000", "strokeColor": "#262626", "fillColor": "#ffffff", "padding": 4, "rowPadding": 5, "labelLimit": 400}}}},
{"data": {"name": "p3"}, "mark": {"type": "line", "strokeWidth": 1, "clip": true},
 "encoding": {
  "x": {"field": "t", "type": "quantitative", "title": "time (sec)"},
  "y": {"field": "bh", "type": "quantitative", "title": "Current (A)"},
  "color": {"datum": "Battery Current (A)"}}}
]
},
{
"width": 482, "height": 387,
"title": "UC Voltage",
"layer": [
{"data": {"name": "p4"}, "mark": {"type": "area", "color": "#0072bd", "clip": true},
 "encoding": {
  "x": {"field": "t", "type": "quantitative", "title": "time (sec)", "scale": {"domain": [7320, 7460], "nice": false, "zero": false}, "axis": {"values": [7320, 7340, 7360, 7380, 7400, 7420, 7440, 7460], "format": "d"}},
  "y": {"field": "l", "type": "quantitative", "title": "Voltage (V)", "scale": {"domain": [130, 140], "nice": false, "zero": false}, "axis": {"values": [130, 132, 134, 136, 138, 140], "format": "d"}},
  "y2": {"field": "h"}}},
{"data": {"name": "p4"}, "mark": {"type": "line", "strokeWidth": 1, "clip": true},
 "encoding": {
  "x": {"field": "t", "type": "quantitative", "title": "time (sec)"},
  "y": {"field": "h", "type": "quantitative", "title": "Voltage (V)"},
  "color": {"datum": "UC Voltage", "scale": {"domain": ["UC Voltage"], "range": ["#0072bd"]},
   "legend": {"title": null, "orient": "top-right", "offset": 0, "symbolType": "M-1,0H3", "symbolSize": 400, "symbolStrokeWidth": 1.2, "symbolOpacity": 0.8, "labelOffset": 25, "labelFontSize": 19, "labelFont": "Liberation Sans", "labelColor": "#000000", "strokeColor": "#262626", "fillColor": "#ffffff", "padding": 4, "rowPadding": 5, "labelLimit": 400}}}}
]
}
],
"resolve": {"scale": {"color": "independent"}, "legend": {"color": "independent"}},
"config": {
"font": "Liberation Sans",
"view": {"stroke": "#262626", "strokeWidth": 1},
"axis": {"labelFont": "Liberation Sans", "labelFontSize": 19, "labelColor": "#262626", "titleFont": "Liberation Sans", "titleFontSize": 21, "titleFontWeight": "normal", "titleColor": "#262626", "grid": true, "gridColor": "#e3e3e3", "gridWidth": 1, "domain": false, "tickColor": "#262626", "tickSize": -5, "labelPadding": 12, "labelFlush": false, "labelOverlap": false},
"axisX": {"titlePadding": 18, "labelPadding": 15},
"axisY": {"titlePadding": 18},
"title": {"font": "Liberation Sans", "fontSize": 21, "fontWeight": "bold", "color": "#000000", "offset": -2}
}
}
